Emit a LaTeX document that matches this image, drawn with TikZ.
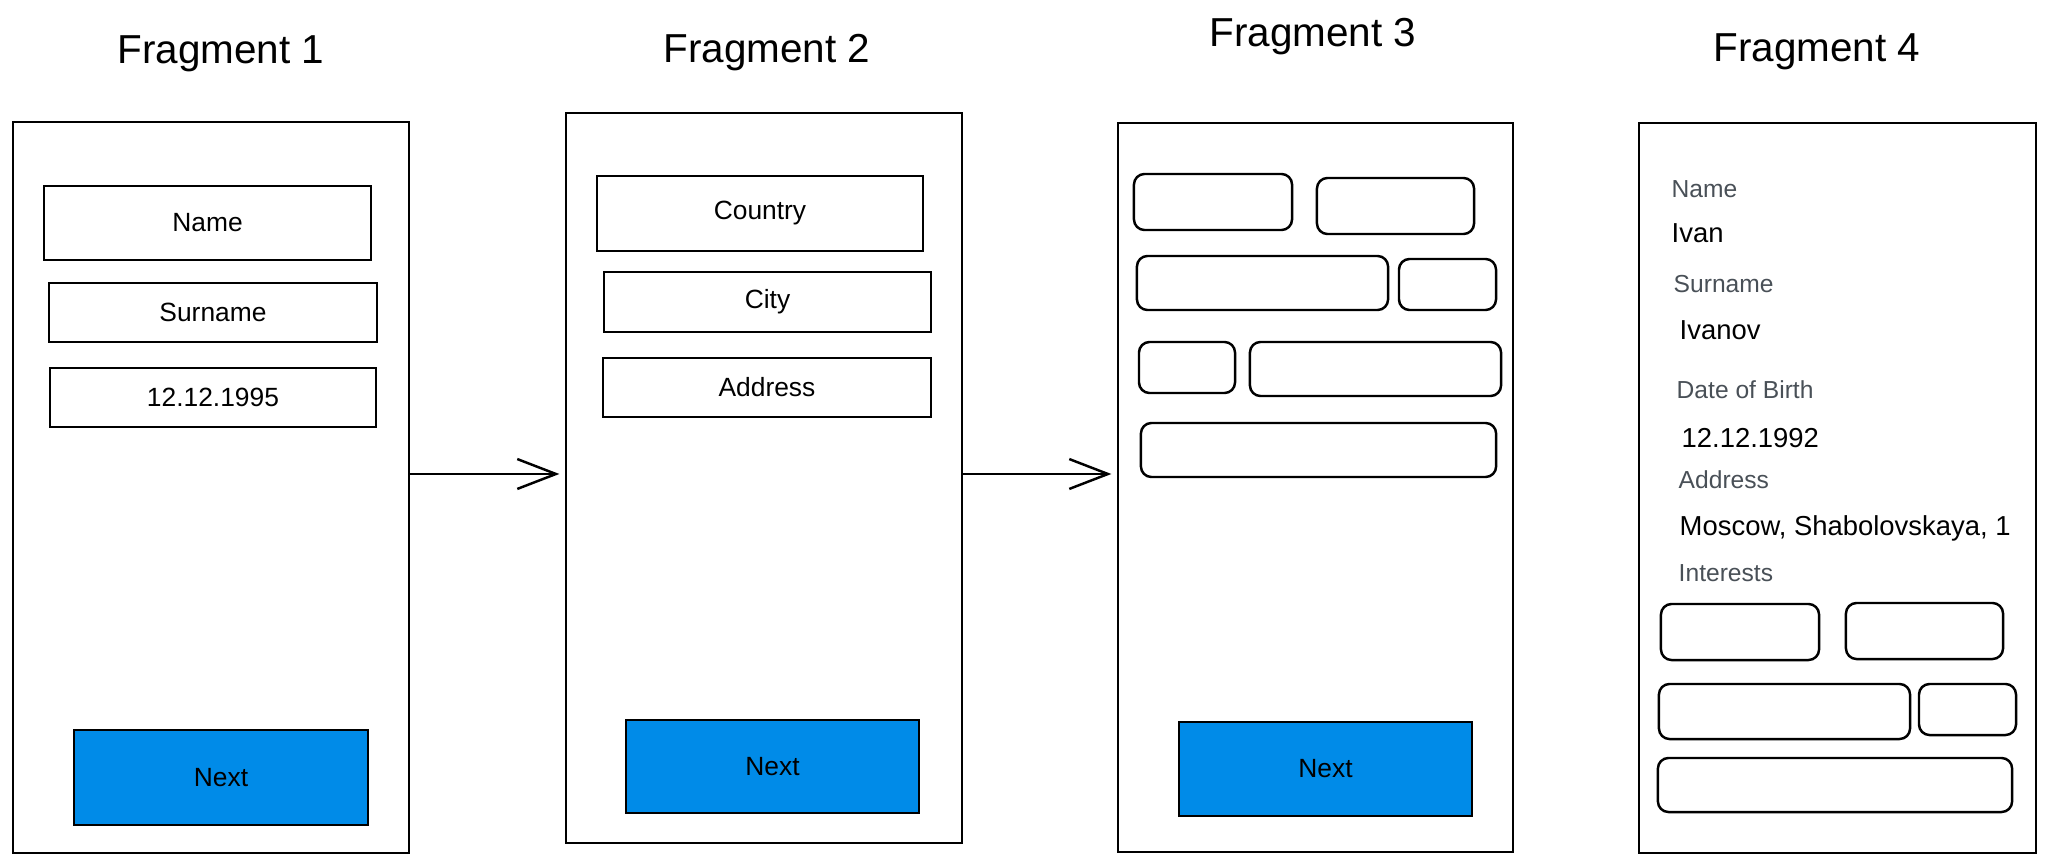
\documentclass[tikz,border=0pt]{standalone}
\usepackage{fontspec}
\setmainfont{Liberation Sans}
\usetikzlibrary{arrows.meta}
\definecolor{btnblue}{HTML}{008BE8}
\definecolor{hintgray}{HTML}{495057}

\begin{document}
\begin{tikzpicture}[x=0.01cm,y=-0.01cm]
\tikzstyle{frame}=[draw=black,line width=0.7pt,inner sep=0pt]
\tikzstyle{field}=[draw=black,line width=0.7pt,inner sep=0pt,font=\fontsize{7.5}{9}\selectfont]
\tikzstyle{button}=[field,fill=btnblue]
\tikzstyle{chip}=[draw=black,line width=0.7pt,rounded corners=3pt,inner sep=0pt]
\tikzstyle{title}=[anchor=base,font=\fontsize{11.5}{13}\selectfont]
\tikzstyle{hint}=[anchor=base west,inner sep=0pt,text=hintgray,font=\fontsize{7}{8}\selectfont]
\tikzstyle{value}=[anchor=base west,inner sep=0pt,font=\fontsize{7.8}{10}\selectfont]
\tikzstyle{flow}=[-{Straight Barb[length=11pt,width=8.5pt]},line width=0.7pt,shorten >=1.5pt]
\useasboundingbox (0,0) rectangle (2048,867);

\node (t1) at (221,64) [title] {Fragment 1};
\node (t2) at (767,63) [title] {Fragment 2};
\node (t3) at (1313,47) [title] {Fragment 3};
\node (t4) at (1817,62) [title] {Fragment 4};

\node (f1) at (211,487.5) [frame,minimum width=3.96cm,minimum height=7.31cm] {};
\node (f2) at (764,478) [frame,minimum width=3.96cm,minimum height=7.30cm] {};
\node (f3) at (1315.5,487.5) [frame,minimum width=3.95cm,minimum height=7.29cm] {};
\node (f4) at (1837.5,488) [frame,minimum width=3.97cm,minimum height=7.30cm] {};

\node (name) at (207.5,223) [field,minimum width=3.27cm,minimum height=0.74cm] {Name};
\node (surname) at (213,312.5) [field,minimum width=3.28cm,minimum height=0.59cm] {Surname};
\node (birth) at (213,397.5) [field,minimum width=3.26cm,minimum height=0.59cm] {12.12.1995};
\node (next1) at (221,777.5) [button,minimum width=2.94cm,minimum height=0.95cm] {Next};

\node (country) at (760,213.5) [field,minimum width=3.26cm,minimum height=0.75cm] {Country};
\node (city) at (767.5,302) [field,minimum width=3.27cm,minimum height=0.60cm] {City};
\node (address) at (767,387.5) [field,minimum width=3.28cm,minimum height=0.59cm] {Address};
\node (next2) at (772.5,766.5) [button,minimum width=2.93cm,minimum height=0.93cm] {Next};

\node (c1) at (1213,202) [chip,minimum width=1.58cm,minimum height=0.56cm] {};
\node (c2) at (1395.5,206) [chip,minimum width=1.57cm,minimum height=0.56cm] {};
\node (c3) at (1262.5,283) [chip,minimum width=2.51cm,minimum height=0.54cm] {};
\node (c4) at (1447.5,284.5) [chip,minimum width=0.97cm,minimum height=0.51cm] {};
\node (c5) at (1187,367.5) [chip,minimum width=0.96cm,minimum height=0.51cm] {};
\node (c6) at (1375.5,369) [chip,minimum width=2.51cm,minimum height=0.54cm] {};
\node (c7) at (1318.5,450) [chip,minimum width=3.55cm,minimum height=0.54cm] {};
\node (next3) at (1325.5,769) [button,minimum width=2.93cm,minimum height=0.94cm] {Next};

\node (hname) at (1671,198) [hint] {Name};
\node (vname) at (1671,243) [value] {Ivan};
\node (hsurname) at (1673,293) [hint] {Surname};
\node (vsurname) at (1679,340) [value] {Ivanov};
\node (hbirth) at (1676,398) [hint] {Date of Birth};
\node (vbirth) at (1681,447) [value] {12.12.1992};
\node (haddress) at (1678,488) [hint] {Address};
\node (vaddress) at (1679,535) [value] {Moscow, Shabolovskaya, 1};
\node (hinterests) at (1678,581) [hint] {Interests};
\node (i1) at (1740,632) [chip,minimum width=1.58cm,minimum height=0.56cm] {};
\node (i2) at (1924.5,631) [chip,minimum width=1.57cm,minimum height=0.56cm] {};
\node (i3) at (1784.5,711.5) [chip,minimum width=2.51cm,minimum height=0.55cm] {};
\node (i4) at (1967.5,709.5) [chip,minimum width=0.97cm,minimum height=0.51cm] {};
\node (i5) at (1835,785) [chip,minimum width=3.54cm,minimum height=0.54cm] {};

\coordinate (s1) at ([yshift=1.35mm]f1.east);
\coordinate (s2) at ([yshift=0.4mm]f2.east);
\draw [flow] (s1) -- (s1 -| f2.west);
\draw [flow] (s2) -- (s2 -| f3.west);
\end{tikzpicture}
\end{document}
